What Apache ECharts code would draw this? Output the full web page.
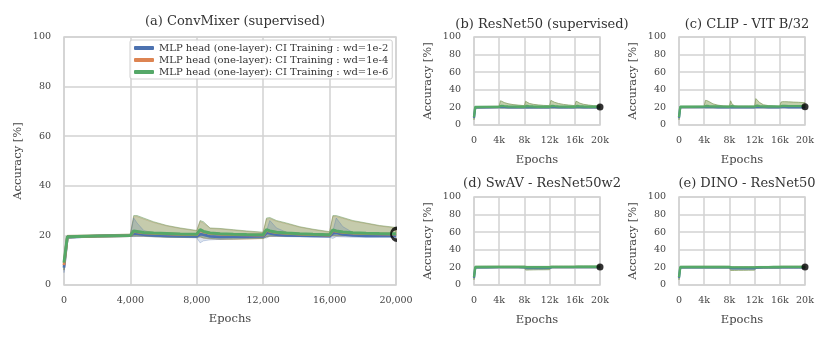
<!DOCTYPE html>
<html>
<head>
<meta charset="utf-8">
<script src="https://cdn.jsdelivr.net/npm/echarts@6/dist/echarts.min.js"></script>
<style>
  html, body { margin: 0; padding: 0; background: #fff; }
  #chart { width: 831px; height: 341px; }
</style>
</head>
<body>
<div id="chart"></div>
<script>
// epochs shared by every curve
const epochs = [0, 200, 2000, 4000, 4200, 4400, 4800, 5400, 6200, 7000, 8000, 8200, 8400, 8800, 9400, 10200,
  11000, 12000, 12200, 12400, 12800, 13400, 14200, 15000, 16000, 16200, 16400, 16800, 17400, 18200, 19000, 20000]

// (a) ConvMixer - mean curves
const convBlue = [7, 19.3, 19.7, 19.9, 20.8, 20.7, 20.3, 20.0, 19.8, 19.7, 19.6, 20.5, 20.3, 19.6, 19.4, 19.5,
  19.5, 19.6, 21.0, 20.8, 20.3, 20.0, 19.9, 19.8, 19.7, 20.8, 21.0, 20.4, 20.0, 19.8, 19.8, 19.8]
const convOrange = [8, 19.4, 19.7, 19.9, 21.6, 21.4, 21.0, 20.8, 20.6, 20.4, 20.3, 22.1, 21.4, 20.8, 20.5, 20.3,
  20.2, 20.1, 22.1, 21.6, 21.1, 20.8, 20.5, 20.3, 20.1, 22.0, 21.6, 21.2, 20.9, 20.7, 20.6, 20.5]
const convGreen = [9, 19.5, 19.8, 20.0, 21.8, 21.6, 21.2, 21.0, 20.8, 20.6, 20.5, 22.3, 21.6, 21.0, 20.7, 20.5,
  20.4, 20.3, 22.3, 21.8, 21.3, 21.0, 20.7, 20.5, 20.3, 22.2, 21.8, 21.4, 21.1, 20.9, 20.8, 20.7]
// (a) ConvMixer - spread bands
const convBlueLo = [5, 18.8, 19.4, 19.6, 19.5, 19.6, 19.6, 19.4, 19.3, 19.2, 19.0, 17.0, 17.8, 18.2, 18.4, 18.6,
  18.8, 19.0, 19.0, 19.6, 19.6, 19.5, 19.4, 19.3, 19.2, 18.8, 19.5, 19.4, 19.3, 19.2, 19.2, 19.2]
const convBlueHi = [8, 19.8, 20.0, 20.2, 27.0, 25.0, 22.0, 21.0, 20.8, 20.5, 20.3, 21.5, 21.2, 20.5, 20.2, 20.2,
  20.2, 20.2, 21.8, 26.0, 23.0, 21.3, 20.8, 20.5, 20.3, 21.8, 27.0, 23.5, 21.2, 20.6, 20.5, 20.4]
const convOrangeLo = [6, 19.0, 19.5, 19.6, 19.8, 19.8, 19.7, 19.5, 19.3, 19.2, 19.2, 19.3, 18.9, 18.6, 18.4, 18.4,
  18.5, 18.7, 19.4, 19.7, 19.7, 19.7, 19.7, 19.7, 19.7, 19.9, 19.9, 19.9, 19.9, 19.9, 19.9, 19.9]
const convOrangeHi = [9, 20.0, 20.2, 20.5, 27.5, 27.6, 26.6, 25.2, 23.8, 22.8, 21.8, 25.6, 25.0, 22.8, 22.6, 22.1,
  21.6, 21.1, 26.6, 26.8, 25.7, 24.7, 23.3, 22.3, 21.3, 27.6, 27.6, 26.9, 25.7, 24.8, 23.8, 23.0]
const convGreenLo = [6, 19.0, 19.5, 19.6, 19.8, 19.8, 19.8, 19.5, 19.3, 19.2, 19.2, 19.5, 19.0, 18.8, 18.5, 18.5,
  18.6, 18.8, 19.5, 19.8, 19.8, 19.8, 19.8, 19.8, 19.8, 20.0, 20.0, 20.0, 20.0, 20.0, 20.0, 20.0]
const convGreenHi = [9, 20.0, 20.2, 20.5, 28.0, 28.0, 27.0, 25.5, 24.0, 23.0, 22.0, 26.0, 25.5, 23.0, 22.8, 22.3,
  21.8, 21.3, 27.0, 27.2, 26.0, 25.0, 23.5, 22.5, 21.5, 28.0, 28.0, 27.2, 26.0, 25.0, 24.0, 23.2]

// (b) ResNet50 supervised
const resBlue = [8, 20.0, 20.0, 20.2, 20.6, 20.4, 20.2, 20.0, 19.9, 19.9, 19.9, 20.6, 20.4, 20.1, 20.0, 19.9,
  19.9, 19.9, 20.8, 20.5, 20.2, 20.0, 19.9, 19.9, 19.9, 20.6, 20.5, 20.2, 20.0, 20.0, 20.0, 20.0]
const resGreen = [9, 20.5, 20.6, 20.8, 22.0, 21.8, 21.4, 21.1, 20.9, 20.8, 20.7, 22.0, 21.6, 21.2, 21.0, 20.8,
  20.7, 20.7, 22.2, 21.8, 21.4, 21.1, 20.9, 20.8, 20.7, 21.9, 21.6, 21.2, 21.0, 20.8, 20.7, 20.7]
const resLo = [6, 19.0, 19.3, 19.5, 19.3, 19.3, 19.3, 19.2, 19.2, 19.2, 19.2, 19.2, 19.2, 19.2, 19.2, 19.2,
  19.2, 19.2, 19.3, 19.3, 19.3, 19.3, 19.3, 19.3, 19.3, 19.3, 19.3, 19.3, 19.3, 19.3, 19.3, 19.3]
const resHi = [10, 21.0, 21.2, 21.4, 27.5, 27.0, 25.5, 24.2, 23.2, 22.6, 22.0, 27.0, 26.0, 24.5, 23.5, 22.8,
  22.3, 22.0, 28.0, 27.2, 25.8, 24.5, 23.4, 22.7, 22.0, 27.0, 26.5, 24.8, 23.5, 22.6, 22.0, 21.6]

// (c) CLIP - VIT B/32
const clipBlue = [8, 20.3, 20.3, 20.4, 20.6, 20.5, 20.3, 20.2, 20.1, 20.1, 20.1, 20.5, 20.3, 20.1, 20.1, 20.1,
  20.1, 20.1, 20.8, 20.6, 20.3, 20.2, 20.1, 20.1, 20.1, 20.2, 20.2, 20.2, 20.1, 20.1, 20.1, 20.1]
const clipGreen = [9, 20.7, 20.8, 20.9, 21.8, 21.6, 21.3, 21.1, 21.0, 20.9, 20.8, 22.0, 21.4, 21.0, 20.9, 20.9,
  20.9, 20.9, 22.5, 22.0, 21.4, 21.1, 21.0, 21.0, 20.9, 21.5, 21.6, 21.6, 21.5, 21.5, 21.4, 21.4]
const clipLo = [6, 19.5, 19.6, 19.7, 19.6, 19.6, 19.6, 19.6, 19.6, 19.6, 19.6, 19.6, 19.6, 19.6, 19.6, 19.6,
  19.6, 19.6, 19.6, 19.6, 19.6, 19.6, 19.6, 19.6, 19.6, 19.8, 19.8, 19.8, 19.8, 19.8, 19.8, 19.8]
const clipHi = [10, 21.2, 21.3, 21.4, 28.0, 27.8, 26.5, 24.0, 22.5, 21.8, 21.5, 27.5, 24.0, 21.8, 21.5, 21.5,
  21.5, 21.5, 30.0, 28.5, 25.5, 23.0, 22.0, 21.6, 21.5, 26.0, 26.5, 26.5, 26.3, 26.0, 25.8, 25.3]

// (d) SwAV - ResNet50w2
const swavBlue = [8, 20.0, 20.1, 20.2, 20.2, 20.2, 20.2, 20.2, 20.2, 20.2, 20.1, 19.2, 19.2, 19.2, 19.2, 19.2,
  19.2, 19.3, 20.2, 20.2, 20.2, 20.2, 20.2, 20.2, 20.2, 20.3, 20.3, 20.3, 20.3, 20.3, 20.3, 20.3]
const swavGreen = [9, 20.4, 20.5, 20.6, 20.6, 20.6, 20.6, 20.6, 20.6, 20.6, 20.5, 20.2, 20.2, 20.2, 20.2, 20.2,
  20.2, 20.2, 20.6, 20.6, 20.6, 20.6, 20.6, 20.6, 20.6, 20.7, 20.7, 20.7, 20.7, 20.7, 20.7, 20.7]
const swavLo = [6, 19.3, 19.5, 19.5, 19.5, 19.5, 19.5, 19.5, 19.5, 19.5, 19.4, 17.0, 17.0, 17.1, 17.2, 17.3,
  17.3, 17.4, 19.5, 19.5, 19.5, 19.5, 19.5, 19.5, 19.5, 19.6, 19.6, 19.6, 19.6, 19.6, 19.6, 19.6]
const swavHi = [10, 21.3, 21.4, 21.5, 21.5, 21.5, 21.5, 21.5, 21.5, 21.5, 21.5, 21.2, 21.2, 21.2, 21.2, 21.2,
  21.2, 21.2, 21.5, 21.5, 21.5, 21.5, 21.5, 21.5, 21.5, 21.6, 21.6, 21.6, 21.6, 21.6, 21.6, 21.6]

// (e) DINO - ResNet50
const dinoBlue = [8, 20.0, 20.1, 20.1, 20.1, 20.1, 20.1, 20.1, 20.1, 20.1, 20.0, 18.8, 18.8, 18.9, 18.9, 18.9,
  19.0, 19.0, 19.8, 19.8, 19.8, 19.9, 19.9, 19.9, 20.0, 20.1, 20.1, 20.1, 20.1, 20.1, 20.1, 20.1]
const dinoGreen = [9, 20.4, 20.5, 20.5, 20.5, 20.5, 20.5, 20.5, 20.5, 20.5, 20.4, 20.0, 20.0, 20.0, 20.0, 20.0,
  20.0, 20.0, 20.3, 20.3, 20.3, 20.3, 20.3, 20.4, 20.4, 20.6, 20.6, 20.6, 20.6, 20.6, 20.6, 20.6]
const dinoLo = [6, 19.2, 19.4, 19.4, 19.4, 19.4, 19.4, 19.4, 19.4, 19.4, 19.3, 16.5, 16.6, 16.6, 16.7, 16.7,
  16.8, 16.9, 18.8, 18.8, 18.9, 18.9, 19.0, 19.0, 19.1, 19.3, 19.3, 19.3, 19.3, 19.3, 19.3, 19.3]
const dinoHi = [10, 21.2, 21.3, 21.3, 21.3, 21.3, 21.3, 21.3, 21.3, 21.3, 21.2, 20.8, 20.8, 20.8, 20.8, 20.8,
  20.8, 20.8, 21.0, 21.0, 21.1, 21.1, 21.1, 21.1, 21.2, 21.4, 21.4, 21.4, 21.4, 21.4, 21.4, 21.4]

const yTicks = [0, 20, 40, 60, 80, 100]
const legendNames = [
  'MLP head (one-layer): CI Training : wd=1e-2',
  'MLP head (one-layer): CI Training : wd=1e-4',
  'MLP head (one-layer): CI Training : wd=1e-6',
]
const blue = '#4c72b0'
const orange = '#dd8452'
const green = '#55a868'
const FONT = 'DejaVu Serif'

const pts = (ys) => epochs.map((x, i) => [x, ys[i]])

// fill_between style band, drawn as one polygon through the axis scales
function band(gi, lo, hi, fill, stroke) {
  return {
    type: 'custom', xAxisIndex: gi, yAxisIndex: gi, silent: true,
    data: epochs.map((x, i) => [x, lo[i], hi[i]]),
    encode: { x: 0, y: [1, 2] },
    renderItem: (params, api) => {
      if (params.dataIndex !== 0) return { type: 'group', children: [] }
      const top = epochs.map((x, i) => api.coord([x, hi[i]]))
      const bot = epochs.map((x, i) => api.coord([x, lo[i]])).reverse()
      return {
        type: 'polygon',
        shape: { points: top.concat(bot) },
        style: { fill: fill, stroke: stroke, lineWidth: 1 },
      }
    },
  }
}

function mean(gi, ys, color, name, width) {
  return {
    type: 'line', name: name, xAxisIndex: gi, yAxisIndex: gi, data: pts(ys),
    symbol: 'none', lineStyle: { width: width, color: color }, itemStyle: { color: color },
  }
}

// left half of a ring, the visible part of the clipped end marker
const halfRing = 'path://M10,0 C4.5,0 0,4.5 0,10 C0,15.5 4.5,20 10,20'

function endDot(gi, y, size, hollow) {
  return {
    type: 'scatter', xAxisIndex: gi, yAxisIndex: gi, data: [[20000, y]], clip: true,
    symbol: hollow ? halfRing : 'circle',
    symbolSize: hollow ? [6, 12] : size, symbolOffset: hollow ? [-2, 0] : [0, 0],
    silent: true, z: 5,
    itemStyle: hollow
      ? { color: 'rgba(0,0,0,0)', borderColor: '#000', borderWidth: 2.5 }
      : { color: '#000' },
  }
}

const grids = [
  { left: 64, top: 37, width: 332, height: 248 },
  { left: 474, top: 37, width: 126, height: 88 },
  { left: 679, top: 37, width: 126, height: 88 },
  { left: 474, top: 197, width: 126, height: 88 },
  { left: 679, top: 197, width: 126, height: 88 },
]
const titles = [
  ['(a) ConvMixer (supervised)', 230, 10],
  ['(b) ResNet50 (supervised)', 537, 13],
  ['(c) CLIP - VIT B/32', 742, 13],
  ['(d) SwAV - ResNet50w2', 537, 172],
  ['(e) DINO - ResNet50', 742, 172],
]

const labelStyle = { color: '#444', fontFamily: FONT, fontSize: 9.5 }
const splitStyle = { show: true, lineStyle: { color: '#d2d2d2', width: 1.5 } }
const nameStyle = { color: '#444', fontFamily: FONT, fontSize: 11.5 }

const oliveFill = 'rgba(143,168,102,0.55)'
const oliveEdge = 'rgba(130,155,95,0.75)'

const options = {
  backgroundColor: '#fff',
  animation: false,
  textStyle: { fontFamily: FONT },
  title: titles.map(t => ({
    text: t[0], left: t[1], top: t[2], textAlign: 'center',
    textStyle: { fontFamily: FONT, fontSize: 13, fontWeight: 'normal', color: '#333' },
  })),
  grid: grids.map(g => Object.assign({ show: true, borderColor: '#d2d2d2', borderWidth: 1.5 }, g)),
  xAxis: grids.map((g, i) => ({
    type: 'value', gridIndex: i, min: 0, max: 20000, interval: 4000,
    name: 'Epochs', nameLocation: 'middle', nameGap: i === 0 ? 28 : 29,
    nameTextStyle: nameStyle,
    axisLine: { show: false }, axisTick: { show: false },
    axisLabel: Object.assign({
      margin: 11,
      formatter: v => i === 0 ? v.toLocaleString('en-US') : (v === 0 ? '0' : v / 1000 + 'k'),
    }, labelStyle),
    splitLine: splitStyle,
  })),
  yAxis: grids.map((g, i) => ({
    type: 'value', gridIndex: i, min: yTicks[0], max: yTicks[yTicks.length - 1], interval: 20,
    name: 'Accuracy [%]', nameLocation: 'middle', nameGap: 40,
    nameTextStyle: nameStyle,
    axisLine: { show: false }, axisTick: { show: false },
    axisLabel: Object.assign({ margin: 13 }, labelStyle),
    splitLine: splitStyle,
  })),
  legend: {
    data: legendNames, orient: 'vertical', left: 130, top: 40,
    backgroundColor: 'rgba(255,255,255,0.85)', borderColor: '#cfcfcf', borderWidth: 1, borderRadius: 2,
    padding: [3, 4, 2, 4], itemGap: 2, itemWidth: 20, itemHeight: 4, icon: 'roundRect',
    textStyle: { color: '#333', fontFamily: FONT, fontSize: 10 },
  },
  series: [
    band(0, convOrangeLo, convOrangeHi, 'rgba(221,132,82,0.3)', 'rgba(221,132,82,0.4)'),
    band(0, convGreenLo, convGreenHi, 'rgba(85,168,104,0.3)', 'rgba(110,150,90,0.5)'),
    band(0, convBlueLo, convBlueHi, 'rgba(76,114,176,0.2)', 'rgba(76,114,176,0.3)'),
    mean(0, convBlue, blue, legendNames[0], 2.8),
    mean(0, convOrange, orange, legendNames[1], 2.8),
    mean(0, convGreen, green, legendNames[2], 3),
    endDot(0, 20.5, 13, true),

    band(1, resLo, resHi, oliveFill, oliveEdge),
    mean(1, resBlue, blue, 'b-blue', 2.2),
    mean(1, resGreen, green, 'b-green', 2.4),
    endDot(1, 20.5, 7, false),

    band(2, clipLo, clipHi, oliveFill, oliveEdge),
    mean(2, clipBlue, blue, 'c-blue', 2.2),
    mean(2, clipGreen, green, 'c-green', 2.4),
    endDot(2, 20.8, 7, false),

    band(3, swavLo, swavHi, oliveFill, oliveEdge),
    mean(3, swavBlue, blue, 'd-blue', 2.2),
    mean(3, swavGreen, green, 'd-green', 2.4),
    endDot(3, 20.5, 7, false),

    band(4, dinoLo, dinoHi, oliveFill, oliveEdge),
    mean(4, dinoBlue, blue, 'e-blue', 2.2),
    mean(4, dinoGreen, green, 'e-green', 2.4),
    endDot(4, 20.4, 7, false),
  ],
}

const chart = echarts.init(document.getElementById('chart'))
chart.setOption(options)
</script>
</body>
</html>
